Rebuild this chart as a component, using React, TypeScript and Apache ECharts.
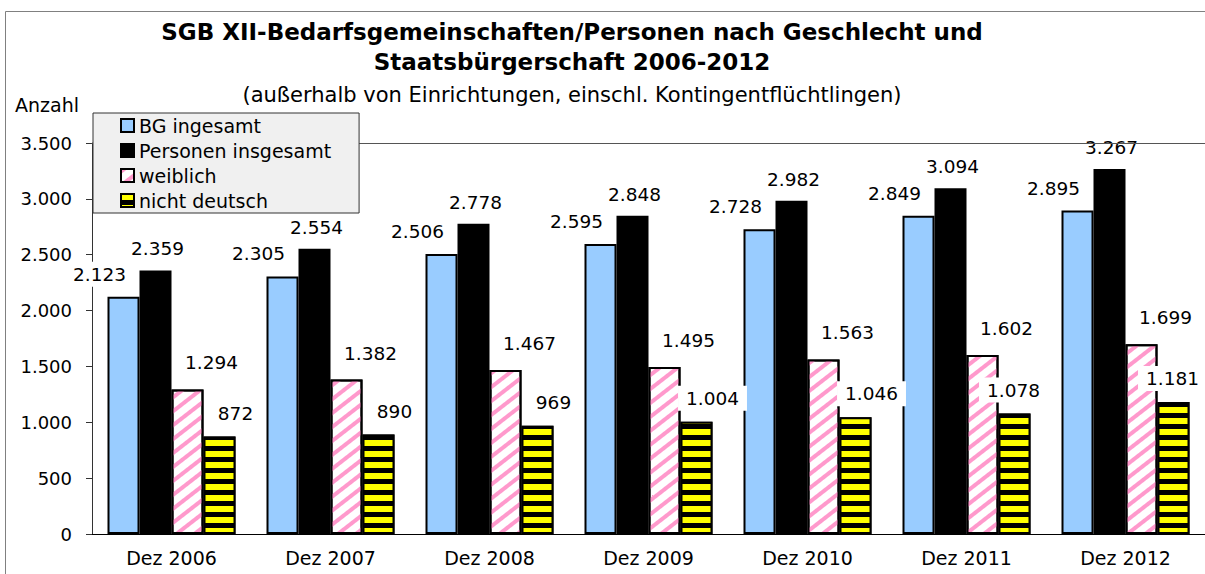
import React, { useEffect, useRef } from 'react';
import * as echarts from 'echarts';

const categories = ['Dez 2006', 'Dez 2007', 'Dez 2008', 'Dez 2009', 'Dez 2010', 'Dez 2011', 'Dez 2012'];
const seriesNames = ['BG ingesamt', 'Personen insgesamt', 'weiblich', 'nicht deutsch'];
const bgTotal = [2123, 2305, 2506, 2595, 2728, 2849, 2895];
const personsTotal = [2359, 2554, 2778, 2848, 2982, 3094, 3267];
const female = [1294, 1382, 1467, 1495, 1563, 1602, 1699];
const nonGerman = [872, 890, 969, 1004, 1046, 1078, 1181];
const yMin = 0;
const yMax = 3500;
const yInterval = 500;

const titleLine1 = 'SGB XII-Bedarfsgemeinschaften/Personen nach Geschlecht und';
const titleLine2 = 'Staatsbürgerschaft 2006-2012';
const subtitle = '(außerhalb von Einrichtungen, einschl. Kontingentflüchtlingen)';
const yName = 'Anzahl';

const FONT = '"DejaVu Sans", "Liberation Sans", Arial, sans-serif';

const fmt = (v: number) => String(Math.round(v)).replace(/\B(?=(\d{3})+(?!\d))/g, '.');

const makeLabel = (dx: number, dy: number) => ({
  show: true,
  position: 'top',
  distance: 0,
  offset: [dx, dy],
  formatter: (p: any) => fmt(p.value),
  fontFamily: FONT,
  fontSize: 18.5,
  color: '#000',
  backgroundColor: '#fff',
  padding: [3, 8],
});

export default function App() {
  const ref = useRef<HTMLDivElement>(null);

  useEffect(() => {
    document.body.style.margin = '0';
    if (!ref.current) return;
    const chart = echarts.init(ref.current, null, { renderer: 'svg' });
    const border = { borderColor: '#000', borderWidth: 2 };
    // the last two "nicht deutsch" labels sit directly above their bars in the reference
    const nonGermanData = nonGerman.map((v, i) =>
      i >= 5 ? { value: v, label: { offset: [-1, -11] } } : v
    );
    chart.setOption({
      animation: false,
      backgroundColor: '#fff',
      graphic: [
        {
          type: 'rect',
          silent: true,
          z: -10,
          shape: { x: 5.5, y: 11.5, width: 1400, height: 800 },
          style: { fill: 'none', stroke: '#808080', lineWidth: 1 },
        },
        {
          type: 'text',
          x: 572,
          y: 32,
          style: { text: titleLine1, fontFamily: FONT, fontSize: 23, fontWeight: 'bold', fill: '#000', align: 'center', verticalAlign: 'middle' },
        },
        {
          type: 'text',
          x: 572,
          y: 62,
          style: { text: titleLine2, fontFamily: FONT, fontSize: 23, fontWeight: 'bold', fill: '#000', align: 'center', verticalAlign: 'middle' },
        },
        {
          type: 'text',
          x: 572,
          y: 95,
          style: { text: subtitle, fontFamily: FONT, fontSize: 21, fill: '#000', align: 'center', verticalAlign: 'middle' },
        },
        {
          type: 'text',
          x: 15,
          y: 105,
          style: { text: yName, fontFamily: FONT, fontSize: 19, fill: '#000', align: 'left', verticalAlign: 'middle' },
        },
      ],
      legend: {
        orient: 'vertical',
        left: 93,
        top: 113,
        itemWidth: 13,
        itemHeight: 13,
        itemGap: 6,
        padding: [3, 28, 3, 27],
        backgroundColor: '#f0f0f0',
        borderColor: '#333',
        borderWidth: 1,
        icon: 'rect',
        textStyle: { fontFamily: FONT, fontSize: 19, color: '#000' },
        data: seriesNames,
      },
      grid: { left: 92, top: 143, width: 1114, height: 391, containLabel: false },
      xAxis: [
        {
          type: 'category',
          data: categories,
          axisLine: { show: true, lineStyle: { color: '#000', width: 1 } },
          axisTick: { show: false },
          axisLabel: { margin: 14, fontFamily: FONT, fontSize: 19, color: '#000' },
        },
        {
          type: 'category',
          position: 'top',
          data: categories,
          z: 3,
          axisLine: { show: true, lineStyle: { color: '#555', width: 1 } },
          axisTick: { show: false },
          axisLabel: { show: false },
        },
      ],
      yAxis: {
        type: 'value',
        min: yMin,
        max: yMax,
        interval: yInterval,
        axisLine: { show: true, lineStyle: { color: '#333', width: 1 } },
        axisTick: { show: true, inside: false, length: 6, lineStyle: { color: '#333' } },
        axisLabel: { margin: 20, fontFamily: FONT, fontSize: 18, color: '#000', formatter: (v: number) => fmt(v) },
        splitLine: { show: false },
      },
      series: [
        {
          name: seriesNames[0],
          type: 'bar',
          data: bgTotal,
          barWidth: 32,
          barGap: '0%',
          itemStyle: { color: '#99ccff', ...border },
          label: makeLabel(-24, -10),
        },
        {
          name: seriesNames[1],
          type: 'bar',
          data: personsTotal,
          barWidth: 32,
          barGap: '0%',
          itemStyle: { color: '#000', ...border },
          label: makeLabel(2, -9),
        },
        {
          name: seriesNames[2],
          type: 'bar',
          data: female,
          barWidth: 32,
          barGap: '0%',
          itemStyle: {
            color: '#fff',
            ...border,
            decal: {
              symbol: 'rect',
              symbolSize: 1,
              color: '#ff99cc',
              dashArrayX: [1, 0],
              dashArrayY: [4, 7],
              rotation: -0.66,
            },
          },
          label: makeLabel(24, -14),
        },
        {
          name: seriesNames[3],
          type: 'bar',
          data: nonGermanData,
          barWidth: 32,
          barGap: '0%',
          itemStyle: {
            color: '#000',
            ...border,
            decal: {
              symbol: 'rect',
              symbolSize: 1,
              color: '#ffff00',
              dashArrayX: [1, 0],
              dashArrayY: [6, 5],
              rotation: 0,
            },
          },
          label: makeLabel(16, -11),
        },
      ],
    });
    return () => chart.dispose();
  }, []);

  return <div ref={ref} style={{ width: 1205, height: 574 }} />;
}
